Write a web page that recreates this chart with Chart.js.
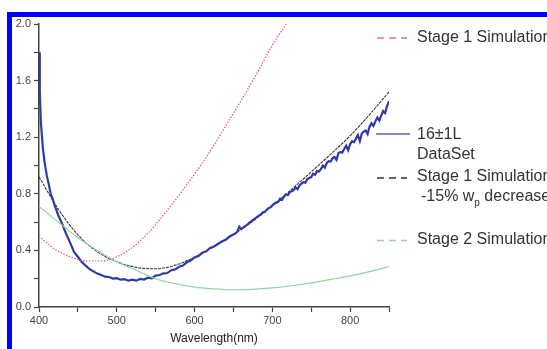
<!DOCTYPE html>
<html>
<head>
<meta charset="utf-8">
<script src="https://cdn.jsdelivr.net/npm/chart.js@4/dist/chart.umd.min.js"></script>
<style>
  html, body { margin: 0; padding: 0; background: #fff; }
  #frame { position: absolute; left: 7px; top: 12px; width: 540px; height: 337px;
           border-top: 5px solid #0000ff; border-left: 5px solid #0000ff; box-sizing: border-box; }
  #wrap { position: absolute; left: 0; top: 0; width: 547px; height: 349px; }
</style>
</head>
<body>
<div id="frame"></div>
<div id="wrap"><canvas id="chart" width="547" height="349"></canvas></div>
<script>
// measured spectrum (16±1L DataSet)
const blueWave = [400, 401, 402.5, 405, 407.5, 410, 412.5, 415, 417.5, 420, 425, 430, 435, 440, 445, 450, 455, 460, 465, 470,
  475, 480, 485, 490, 495, 500, 505, 510, 515, 520, 525, 530, 535, 540, 545, 550, 555, 560, 565, 570,
  575, 580, 585, 590, 595, 600, 605, 610, 615, 620, 625, 630, 635, 640, 645, 650,
  652.5, 655, 657.5, 660, 662.5, 665, 667.5, 670, 672.5, 675, 677.5, 680, 682.5, 685, 687.5, 690, 692.5, 695, 697.5, 700,
  702.5, 705, 707.5, 710, 712.5, 715, 717.5, 720, 722.5, 725, 727.5, 730, 732.5, 735, 737.5, 740, 742.5, 745, 747.5, 750,
  752.5, 755, 757.5, 760, 762.5, 765, 767.5, 770, 772.5, 775, 777.5, 780, 782.5, 785, 787.5, 790, 792.5, 795, 797.5, 800,
  802.5, 805, 807.5, 810, 812.5, 815, 817.5, 820, 822.5, 825, 827.5, 830, 832.5, 835, 837.5, 840, 842.5, 845, 847.5, 850];
const blueVals = [1.80, 1.52, 1.30, 1.12, 1.01, 0.93, 0.87, 0.80, 0.765, 0.72, 0.645, 0.585, 0.515, 0.455, 0.39, 0.355, 0.318, 0.292, 0.268, 0.252,
  0.236, 0.226, 0.214, 0.212, 0.201, 0.204, 0.193, 0.197, 0.186, 0.193, 0.186, 0.198, 0.194, 0.207, 0.203, 0.222, 0.226, 0.238, 0.240, 0.260,
  0.266, 0.284, 0.293, 0.316, 0.328, 0.350, 0.361, 0.383, 0.393, 0.417, 0.428, 0.445, 0.463, 0.475, 0.498, 0.512,
  0.520, 0.532, 0.568, 0.550, 0.560, 0.572, 0.580, 0.594, 0.602, 0.615, 0.624, 0.636, 0.645, 0.652, 0.668, 0.672, 0.686, 0.698, 0.704, 0.718,
  0.730, 0.738, 0.742, 0.765, 0.758, 0.782, 0.795, 0.790, 0.812, 0.818, 0.826, 0.845, 0.832, 0.860, 0.872, 0.882, 0.878, 0.905, 0.912, 0.918,
  0.942, 0.935, 0.962, 0.958, 0.975, 1.000, 0.985, 1.018, 1.030, 1.028, 1.052, 1.060, 1.040, 1.088, 1.095, 1.092, 1.118, 1.140, 1.108, 1.150,
  1.172, 1.165, 1.190, 1.215, 1.172, 1.225, 1.240, 1.248, 1.222, 1.275, 1.298, 1.280, 1.312, 1.340, 1.318, 1.352, 1.385, 1.370, 1.420, 1.455];

// Stage 1 Simulation
const stage1Wave = [400, 420, 440, 460, 480, 500, 520, 540, 560, 580, 600, 620, 640, 660, 680, 700, 718];
const stage1Vals = [0.50, 0.41, 0.355, 0.325, 0.325, 0.355, 0.42, 0.52, 0.65, 0.79, 0.94, 1.10, 1.28, 1.46, 1.65, 1.85, 2.0];

// Stage 1 Simulation -15% wp decrease, Stage 2 Simulation
const simWave = [400, 425, 450, 475, 500, 525, 550, 575, 600, 625, 650, 675, 700, 725, 750, 775, 800, 825, 850];
const stage1bVals = [0.92, 0.69, 0.51, 0.39, 0.32, 0.28, 0.27, 0.295, 0.352, 0.428, 0.512, 0.607, 0.716, 0.832, 0.955, 1.08, 1.21, 1.36, 1.52];
const stage2Vals = [0.71, 0.60, 0.49, 0.40, 0.32, 0.26, 0.20, 0.165, 0.14, 0.128, 0.122, 0.125, 0.135, 0.15, 0.17, 0.195, 0.22, 0.25, 0.285];

const FONT = '"Liberation Sans", Arial, sans-serif';
const pts = (xs, ys) => xs.map((x, i) => ({ x: x, y: ys[i] }));

// legend drawn by hand, the original puts it loosely at the right
const legendPlugin = {
    id: 'sideLegend',
    afterDraw(chart) {
        const ctx = chart.ctx;
        ctx.save();
        ctx.font = '16px ' + FONT;
        ctx.fillStyle = '#333';
        ctx.textBaseline = 'middle';

        const sample = (y, color, dash, x0, x1) => {
            ctx.beginPath();
            ctx.setLineDash(dash);
            ctx.strokeStyle = color;
            ctx.lineWidth = 1.5;
            ctx.moveTo(x0, y);
            ctx.lineTo(x1, y);
            ctx.stroke();
        };

        sample(38, '#e06f94', [7, 5], 377, 407);
        ctx.fillText('Stage 1 Simulation', 417, 38);

        sample(134, '#5560c0', [], 376, 410);
        ctx.fillText('16\u00b11L', 417, 135);
        ctx.fillText('DataSet', 417, 155);

        sample(178, '#333', [7, 5], 377, 407);
        ctx.fillText('Stage 1 Simulation', 417, 177);
        let x = 421;
        ctx.fillText('-15% w', x, 197);
        x += ctx.measureText('-15% w').width;
        ctx.font = '10px ' + FONT;
        ctx.fillText('p', x, 203);
        x += ctx.measureText('p').width;
        ctx.font = '16px ' + FONT;
        ctx.fillText(' decrease', x, 197);

        sample(240.5, '#8fd6a0', [7, 5], 377, 407);
        ctx.fillText('Stage 2 Simulation', 417, 240);
        ctx.restore();
    }
};

const axisTicks = { color: '#444', font: { family: FONT, size: 11 } };

new Chart(document.getElementById('chart').getContext('2d'), {
    type: 'line',
    data: {
        datasets: [
            {
                label: 'Stage 2 Simulation',
                data: pts(simWave, stage2Vals),
                borderColor: '#8fd6a0',
                borderWidth: 1.2,
                cubicInterpolationMode: 'monotone'
            },
            {
                label: 'Stage 1 Simulation',
                data: pts(stage1Wave, stage1Vals),
                borderColor: '#e0557f',
                borderWidth: 1.2,
                borderDash: [1.5, 1.5],
                cubicInterpolationMode: 'monotone'
            },
            {
                label: '16±1L DataSet',
                data: pts(blueWave, blueVals),
                borderColor: '#3039a8',
                borderWidth: 2.2,
                tension: 0
            },
            {
                label: 'Stage 1 Simulation -15% wp decrease',
                data: pts(simWave, stage1bVals),
                borderColor: '#333',
                borderWidth: 1.1,
                borderDash: [3, 1],
                cubicInterpolationMode: 'monotone'
            }
        ]
    },
    options: {
        responsive: false,
        animation: false,
        layout: { padding: { left: 0, top: 24, right: 158, bottom: 0 } },
        elements: { point: { radius: 0 } },
        plugins: { legend: { display: false }, tooltip: { enabled: false } },
        scales: {
            x: {
                type: 'linear',
                min: 400,
                max: 850,
                afterFit: s => { s.height = 42; },
                ticks: {
                    ...axisTicks,
                    stepSize: 50,
                    autoSkip: false,
                    maxRotation: 0,
                    padding: 2,
                    callback: v => (v % 100 === 0 && v <= 800) ? String(v) : ''
                },
                grid: { drawOnChartArea: false, tickLength: 5, tickColor: '#444', tickWidth: 1.2 },
                border: { color: '#444', width: 1.5 },
                title: {
                    display: true,
                    text: 'Wavelength(nm)',
                    color: '#222',
                    font: { family: FONT, size: 12 },
                    padding: { top: 0, bottom: 3 }
                }
            },
            y: {
                min: 0,
                max: 2,
                afterFit: s => { s.width = 39; },
                ticks: {
                    ...axisTicks,
                    stepSize: 0.2,
                    padding: 3,
                    callback: v => (Math.round(v * 10) % 4 === 0) ? v.toFixed(1) : ''
                },
                grid: { drawOnChartArea: false, tickLength: 5, tickColor: '#444', tickWidth: 1.2 },
                border: { color: '#444', width: 1.5 }
            }
        }
    },
    plugins: [legendPlugin]
});
</script>
</body>
</html>
